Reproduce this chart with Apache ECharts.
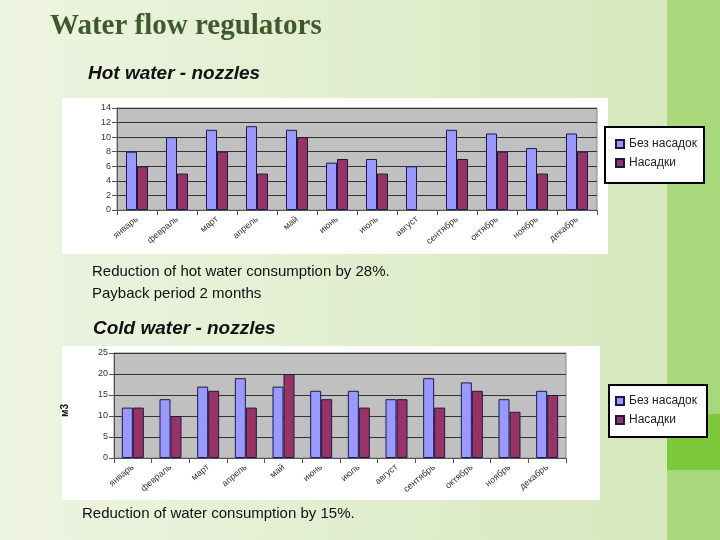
<!DOCTYPE html>
<html><head><meta charset="utf-8">
<script src="https://cdn.jsdelivr.net/npm/echarts@6/dist/echarts.min.js"></script>
<style>html,body{margin:0;padding:0}#c{width:720px;height:540px}</style>
</head><body><div id="c"></div>
<script>
var months = ['январь','февраль','март','апрель','май','июнь','июль','август','сентябрь','октябрь','ноябрь','декабрь'];
var hotPlain = [8, 10, 11, 11.5, 11, 6.5, 7, 6, 11, 10.5, 8.5, 10.5];
var hotNozzle = [6, 5, 8, 5, 10, 7, 5, null, 7, 8, 5, 8];
var coldPlain = [12, 14, 17, 19, 17, 16, 16, 14, 19, 18, 14, 16];
var coldNozzle = [12, 10, 16, 12, 20, 14, 12, 14, 12, 16, 11, 15];
var names = ['Без насадок', 'Насадки'];

var myChart = echarts.init(document.getElementById('c'));
var lbl = {color: '#333', fontSize: 9, rotate: 40, interval: 0, margin: 8, fontFamily: 'Liberation Sans'};
var ylbl = {color: '#333', fontSize: 9, fontFamily: 'Liberation Sans', margin: 6};
function legendBox(top) {
    return {orient: 'vertical', left: 610, top: top, itemWidth: 8, itemHeight: 8, itemGap: 7,
        textStyle: {fontSize: 12, color: '#222', fontFamily: 'Liberation Sans'},
        icon: 'rect', data: names};
}
function bar(name, data, x, y, color) {
    return {name: name, type: 'bar', xAxisIndex: x, yAxisIndex: y, data: data, barWidth: 11, barGap: '0%',
        itemStyle: {color: color, borderColor: '#1a1a4a', borderWidth: 1}};
}
var option = {
    animation: false,
    backgroundColor: '#e9f0da',
    graphic: [
        {type: 'rect', z: -5, shape: {x: 0, y: 0, width: 667, height: 540},
         style: {fill: new echarts.graphic.LinearGradient(0, 0, 1, 0, [{offset: 0, color: '#eef4e2'}, {offset: 1, color: '#d6e8bd'}])}},
        {type: 'rect', z: -5, shape: {x: 667, y: 0, width: 53, height: 540}, style: {fill: '#a9d77c'}},
        {type: 'rect', z: -5, shape: {x: 667, y: 414, width: 53, height: 56}, style: {fill: '#7dc83b'}},
        {type: 'rect', z: -4, shape: {x: 62, y: 98, width: 546, height: 156}, style: {fill: '#fff'}},
        {type: 'rect', z: -4, shape: {x: 62, y: 346, width: 538, height: 154}, style: {fill: '#fff'}},
        {type: 'rect', z: -3, shape: {x: 605, y: 127, width: 99, height: 56}, style: {fill: '#fff', stroke: '#000', lineWidth: 2}},
        {type: 'rect', z: -3, shape: {x: 609, y: 385, width: 98, height: 52}, style: {fill: '#fff', stroke: '#000', lineWidth: 2}},
        {type: 'text', left: 50, top: 12, style: {text: 'Water flow regulators', fontSize: 29, fontWeight: 'bold', fontFamily: 'Liberation Serif', fill: '#3d5a2c'}},
        {type: 'text', left: 88, top: 64, style: {text: 'Hot water - nozzles', fontSize: 19, fontStyle: 'italic', fontWeight: 'bold', fontFamily: 'Liberation Sans', fill: '#111'}},
        {type: 'text', left: 92, top: 261, style: {text: 'Reduction of hot water consumption by 28%.\nPayback period 2 months', fontSize: 15, lineHeight: 22, fontFamily: 'Liberation Sans', fill: '#111'}},
        {type: 'text', left: 93, top: 319, style: {text: 'Cold water - nozzles', fontSize: 19, fontStyle: 'italic', fontWeight: 'bold', fontFamily: 'Liberation Sans', fill: '#111'}},
        {type: 'text', left: 82, top: 506, style: {text: 'Reduction of water consumption by 15%.', fontSize: 15, fontFamily: 'Liberation Sans', fill: '#111'}},
        {type: 'text', left: 60, top: 404, rotation: Math.PI / 2, style: {text: 'м3', fontSize: 10, fontWeight: 'bold', fontFamily: 'Liberation Sans', fill: '#111'}}
    ],
    legend: [legendBox(133), legendBox(390)],
    grid: [
        {left: 117, top: 108, width: 480, height: 102, show: true, backgroundColor: '#c0c0c0', borderColor: '#888'},
        {left: 114, top: 353, width: 452, height: 105, show: true, backgroundColor: '#c0c0c0', borderColor: '#888'}
    ],
    xAxis: [
        {type: 'category', gridIndex: 0, data: months, axisLabel: lbl, axisTick: {show: true}, axisLine: {lineStyle: {color: '#555'}}},
        {type: 'category', gridIndex: 1, data: months, axisLabel: lbl, axisTick: {show: true}, axisLine: {lineStyle: {color: '#555'}}}
    ],
    yAxis: [
        {type: 'value', gridIndex: 0, min: 0, max: 14, interval: 2, axisLabel: ylbl, axisLine: {show: true, lineStyle: {color: '#555'}}, axisTick: {show: true}, splitLine: {lineStyle: {color: '#333'}}},
        {type: 'value', gridIndex: 1, min: 0, max: 25, interval: 5, axisLabel: ylbl, axisLine: {show: true, lineStyle: {color: '#555'}}, axisTick: {show: true}, splitLine: {lineStyle: {color: '#333'}}}
    ],
    series: [
        bar(names[0], hotPlain, 0, 0, '#9999ff'),
        bar(names[1], hotNozzle, 0, 0, '#993366'),
        bar(names[0], coldPlain, 1, 1, '#9999ff'),
        bar(names[1], coldNozzle, 1, 1, '#993366')
    ]
};
myChart.setOption(option);
</script></body></html>
